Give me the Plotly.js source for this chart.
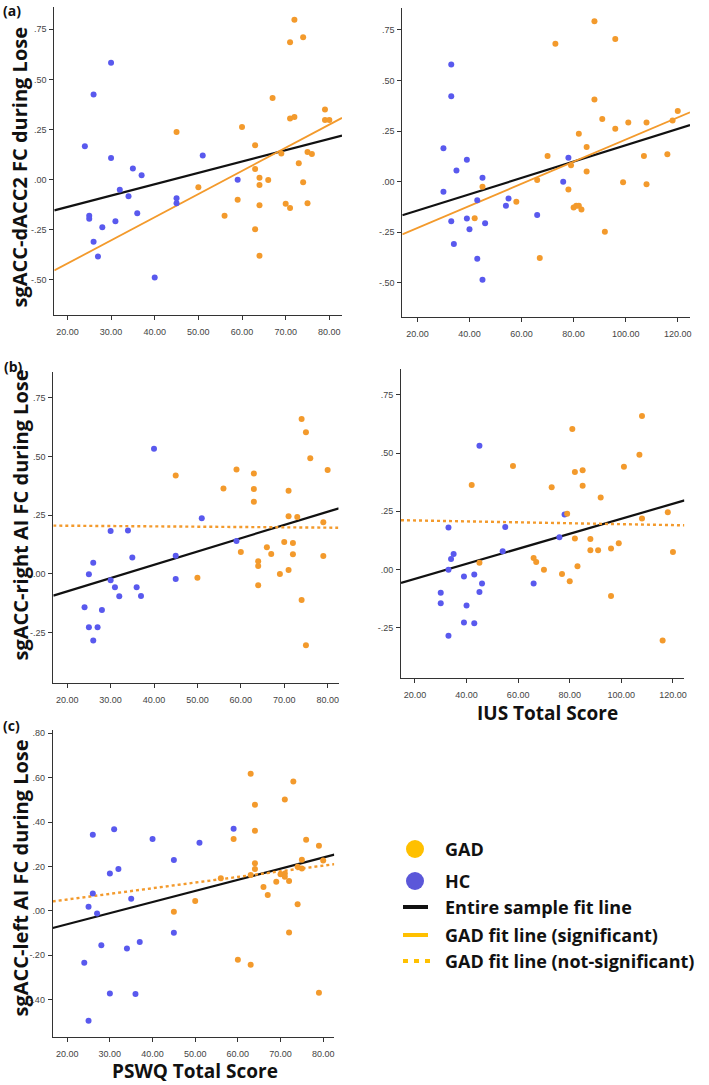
<!DOCTYPE html>
<html>
<head>
<meta charset="utf-8">
<script src="https://cdn.plot.ly/plotly-3.0.1.min.js"></script>
<style>html,body{margin:0;padding:0;background:#fff;}#chart{width:709px;height:1085px;}</style>
</head>
<body>
<div id="chart"></div>
<script>
// ---------- DATA ----------
// Panel (a) left: PSWQ vs sgACC-dACC2 FC
const hcA_pswq = [24,26,30,30,35,37,32,34,36,31,25,25,28,26,27,40,45,45,51,59];
const hcA_dacc = [0.167,0.425,0.583,0.108,0.055,0.022,-0.05,-0.083,-0.167,-0.208,-0.18,-0.195,-0.237,-0.31,-0.383,-0.488,-0.093,-0.118,0.12,0.0];
const gadA_pswq = [45,50,56,59,60,63,63,63,64,64,64,64,66,67,69,70,71,71,71,72,72,73,74,74,75,75,76,79,79,80];
const gadA_dacc = [0.238,-0.038,-0.18,-0.1,0.262,0.172,0.053,-0.247,0.01,-0.027,-0.128,-0.38,-0.002,0.407,0.13,-0.12,0.305,0.685,-0.142,0.798,0.312,0.082,0.71,-0.013,0.138,-0.118,0.128,0.35,0.297,0.297];

// Panel (a) right: IUS vs sgACC-dACC2 FC
const hcA_ius = [33,33,30,39,35,45,30,43,55,54,33,39,40,46,34,43,45,66,76,78];
const hcA_dacc2 = [0.579,0.422,0.166,0.108,0.055,0.02,-0.05,-0.091,-0.083,-0.119,-0.195,-0.182,-0.235,-0.205,-0.308,-0.381,-0.485,-0.164,0.0,0.119];
const gadA_ius = [73,88,96,88,91,96,101,108,118,120,82,85,70,79,85,107,116,99,108,66,78,45,58,42,80,81,82,83,92,67];
const gadA_dacc2 = [0.682,0.793,0.705,0.406,0.31,0.262,0.293,0.293,0.303,0.349,0.237,0.172,0.127,0.081,0.051,0.127,0.136,-0.002,-0.013,0.008,-0.038,-0.025,-0.099,-0.18,-0.127,-0.119,-0.119,-0.137,-0.247,-0.377];

// Panel (b) left: PSWQ vs sgACC-right AI FC
const hcB_pswq = [40,51,30,34,35,26,25,30,31,32,36,37,28,24,25,27,26,45,45,59];
const hcB_rai = [0.533,0.237,0.183,0.185,0.07,0.048,-0.001,-0.027,-0.057,-0.095,-0.057,-0.094,-0.153,-0.142,-0.227,-0.227,-0.283,-0.021,0.078,0.141];
const gadB_pswq = [45,50,56,59,60,63,63,63,64,64,64,66,67,69,70,71,71,71,72,72,73,74,74,75,75,76,79,79,80];
const gadB_rai = [0.419,-0.016,0.364,0.445,0.094,0.428,0.362,0.308,0.054,0.034,-0.048,0.114,0.085,0.0,0.136,0.354,0.246,0.017,0.132,0.084,0.243,0.66,-0.111,0.604,-0.303,0.493,0.22,0.077,0.443];

// Panel (b) right: IUS vs sgACC-right AI FC
const hcB_ius = [45,33,55,78,76,54,35,34,33,39,43,46,45,30,30,40,39,43,33,66];
const hcB_rai2 = [0.531,0.181,0.183,0.236,0.139,0.079,0.067,0.046,-0.001,-0.029,-0.021,-0.059,-0.096,-0.099,-0.144,-0.154,-0.227,-0.23,-0.284,-0.06];
const gadB_ius = [42,45,58,66,67,70,73,77,79,80,81,82,82,83,85,85,88,88,91,92,96,96,99,101,107,108,108,116,118,120];
const gadB_rai2 = [0.363,0.029,0.444,0.05,0.033,-0.001,0.353,-0.019,0.24,-0.05,0.603,0.419,0.134,0.014,0.426,0.36,0.131,0.083,0.083,0.309,0.091,-0.113,0.113,0.441,0.493,0.659,0.219,-0.304,0.246,0.076];

// Panel (c): PSWQ vs sgACC-left AI FC
const hcC_pswq = [24,25,25,26,26,27,28,30,30,31,32,34,35,36,37,40,45,45,51,59];
const hcC_lai = [-0.235,0.018,-0.496,0.078,0.343,-0.012,-0.156,0.168,-0.373,0.368,0.188,-0.17,0.054,-0.376,-0.141,0.323,0.229,-0.099,0.307,0.37];
const gadC_pswq = [45,50,56,59,60,63,63,63,64,64,64,64,66,67,69,70,71,71,71,72,72,73,74,74,75,75,76,79,79,80];
const gadC_lai = [-0.005,0.044,0.146,0.323,-0.221,0.618,0.161,-0.244,0.478,0.361,0.214,0.188,0.107,0.071,0.131,0.164,0.168,0.502,0.153,0.134,-0.098,0.583,0.198,0.029,0.23,0.191,0.32,0.293,-0.37,0.227];

// Fit lines (values at the two ends of each x range)
const fitA1_x = [17.0, 82.9], fitA1_all = [-0.153, 0.22], fitA1_gad = [-0.453, 0.308];
const fitA2_x = [14.2, 124.7], fitA2_all = [-0.166, 0.28], fitA2_gad = [-0.26, 0.343];
const fitB1_x = [16.8, 82.6], fitB1_all = [-0.092, 0.28], fitB1_gad = [0.206, 0.197];
const fitB2_x = [14.6, 124.5], fitB2_all = [-0.057, 0.297], fitB2_gad = [0.212, 0.19];
const fitC_x = [16.6, 82.6], fitC_all = [-0.078, 0.253], fitC_gad = [0.042, 0.21];

// Tick labels
const pswqTicks = [20,30,40,50,60,70,80];
const iusTicks = [20,40,60,80,100,120];
const yTicksAB = [-0.5,-0.25,0,0.25,0.5,0.75];
const yTextAB = ['-.50','-.25','.00','.25','.50','.75'];
const yTicksC = [-0.4,-0.2,0,0.2,0.4,0.6,0.8];
const yTextC = ['-.40','-.20','.00','.20','.40','.60','.80'];

// Texts
const yTitles = ['sgACC-dACC2 FC during Lose','sgACC-right AI FC during Lose','sgACC-left AI FC during Lose'];
const xTitles = ['IUS Total Score','PSWQ Total Score'];
const panelLabels = ['(a)','(b)','(c)'];
const legendLabels = ['GAD','HC','Entire sample fit line','GAD fit line (significant)','GAD fit line (not-significant)'];

// ---------- STYLE / LAYOUT ----------
const W = 709, H = 1085;
const px = v => v / W;
const py = v => 1 - v / H;
const ORANGE = '#F39A2C', BLUE = '#5959EE', LEG_YEL = '#FFC000', LEG_BLUE = '#5B57D9';
const FONT = 'Open Sans, Noto Sans, sans-serif';
const TICKFONT = {family: 'Liberation Sans, Arial, sans-serif', size: 9, color: '#444'};

const panels = [
  {id:'', L:54.3, R:342, T:7, B:315, xr:[17.0,82.9], yr:[-0.675,0.861], xt:pswqTicks, yt:yTicksAB, ytt:yTextAB,
   hx:hcA_pswq, hy:hcA_dacc, gx:gadA_pswq, gy:gadA_dacc, fx:fitA1_x, fa:fitA1_all, fg:fitA1_gad, sig:true},
  {id:'2', L:402.3, R:690, T:8.3, B:316.7, xr:[14.2,124.7], yr:[-0.667,0.857], xt:iusTicks, yt:yTicksAB, ytt:yTextAB,
   hx:hcA_ius, hy:hcA_dacc2, gx:gadA_ius, gy:gadA_dacc2, fx:fitA2_x, fa:fitA2_all, fg:fitA2_gad, sig:true},
  {id:'3', L:53.3, R:338.5, T:372.3, B:682.7, xr:[16.8,82.5], yr:[-0.463,0.859], xt:pswqTicks, yt:yTicksAB, ytt:yTextAB,
   hx:hcB_pswq, hy:hcB_rai, gx:gadB_pswq, gy:gadB_rai, fx:fitB1_x, fa:fitB1_all, fg:fitB1_gad, sig:false},
  {id:'4', L:401, R:684.3, T:369.3, B:678.3, xr:[14.6,124.4], yr:[-0.466,0.859], xt:iusTicks, yt:yTicksAB, ytt:yTextAB,
   hx:hcB_ius, hy:hcB_rai2, gx:gadB_ius, gy:gadB_rai2, fx:fitB2_x, fa:fitB2_all, fg:fitB2_gad, sig:false},
  {id:'5', L:52.7, R:334.3, T:730, B:1036.7, xr:[16.6,82.6], yr:[-0.568,0.815], xt:pswqTicks, yt:yTicksC, ytt:yTextC,
   hx:hcC_pswq, hy:hcC_lai, gx:gadC_pswq, gy:gadC_lai, fx:fitC_x, fa:fitC_all, fg:fitC_gad, sig:false}
];

const traces = [];
const layout = {
  width: W, height: H, margin: {l:0, r:0, t:0, b:0},
  paper_bgcolor: '#fff', plot_bgcolor: '#fff', showlegend: false,
  annotations: [], shapes: []
};

panels.forEach(p => {
  const xa = 'x' + p.id, ya = 'y' + p.id;
  traces.push({type:'scatter', mode:'lines', x:p.fx, y:p.fa, xaxis:xa, yaxis:ya,
    line:{color:'#111', width:2.2}, hoverinfo:'skip'});
  traces.push({type:'scatter', mode:'lines', x:p.fx, y:p.fg, xaxis:xa, yaxis:ya,
    line:{color:ORANGE, width: p.sig ? 1.8 : 2.4, dash: p.sig ? 'solid' : 'dot'}, hoverinfo:'skip'});
  traces.push({type:'scatter', mode:'markers', x:p.hx, y:p.hy, xaxis:xa, yaxis:ya,
    marker:{color:BLUE, size:6, line:{width:0}}, cliponaxis:false});
  traces.push({type:'scatter', mode:'markers', x:p.gx, y:p.gy, xaxis:xa, yaxis:ya,
    marker:{color:ORANGE, size:6, line:{width:0}}, cliponaxis:false});
  const axBase = {showline:true, linecolor:'#333', linewidth:1, ticks:'outside', ticklen:4, tickwidth:1,
    tickcolor:'#333', showgrid:false, zeroline:false, tickfont:TICKFONT, fixedrange:true};
  layout['xaxis' + p.id] = Object.assign({}, axBase, {
    domain:[px(p.L), px(p.R)], range:p.xr, anchor:ya, tickvals:p.xt, tickformat:'.2f', ticklabelstandoff:4});
  layout['yaxis' + p.id] = Object.assign({}, axBase, {
    domain:[py(p.B), py(p.T)], range:p.yr, anchor:xa, tickvals:p.yt, ticktext:p.ytt, ticklabelstandoff:1});
});

// Y-axis titles
const yTitlePos = [167, 515, 878];
yTitles.forEach((t, i) => layout.annotations.push({text:t, xref:'paper', yref:'paper',
  x:px(19.5), y:py(yTitlePos[i]), textangle:-90, showarrow:false, xanchor:'center', yanchor:'middle',
  font:{family:FONT, size:20, color:'#111', weight:700}}));
// X-axis titles
layout.annotations.push({text:xTitles[0], xref:'paper', yref:'paper', x:px(547), y:py(713),
  showarrow:false, xanchor:'center', yanchor:'middle', font:{family:FONT, size:19, color:'#111', weight:700}});
layout.annotations.push({text:xTitles[1], xref:'paper', yref:'paper', x:px(195), y:py(1071),
  showarrow:false, xanchor:'center', yanchor:'middle', font:{family:FONT, size:19, color:'#111', weight:700}});
// Panel labels
const labPos = [[12,11],[13,366],[11,725]];
panelLabels.forEach((t, i) => layout.annotations.push({text:t, xref:'paper', yref:'paper',
  x:px(labPos[i][0]), y:py(labPos[i][1]), showarrow:false, xanchor:'center', yanchor:'middle',
  font:{family:FONT, size:14, color:'#111', weight:700}}));

// Legend (drawn in paper space)
const legY = [849, 881, 907, 935, 961];
const legTextX = 443, legSymX = 415;
legendLabels.forEach((t, i) => layout.annotations.push({text:t, xref:'paper', yref:'paper',
  x:px(legTextX), y:py(legY[i]), showarrow:false, xanchor:'left', yanchor:'middle',
  font:{family:FONT, size:18, color:'#111', weight:700}}));
[[LEG_YEL, legY[0]], [LEG_BLUE, legY[1]]].forEach(([c, yy]) => layout.shapes.push({type:'circle',
  xref:'paper', yref:'paper', x0:px(legSymX-9), x1:px(legSymX+9), y0:py(yy+9), y1:py(yy-9),
  fillcolor:c, line:{width:0}}));
layout.shapes.push({type:'line', xref:'paper', yref:'paper', x0:px(403), x1:px(428), y0:py(legY[2]), y1:py(legY[2]),
  line:{color:'#111', width:4}});
layout.shapes.push({type:'line', xref:'paper', yref:'paper', x0:px(403), x1:px(428), y0:py(legY[3]), y1:py(legY[3]),
  line:{color:LEG_YEL, width:4}});
layout.shapes.push({type:'line', xref:'paper', yref:'paper', x0:px(403), x1:px(430), y0:py(legY[4]), y1:py(legY[4]),
  line:{color:LEG_YEL, width:4, dash:'5px,6px'}});

Plotly.newPlot('chart', traces, layout, {staticPlot:true, displayModeBar:false});
</script>
</body>
</html>
